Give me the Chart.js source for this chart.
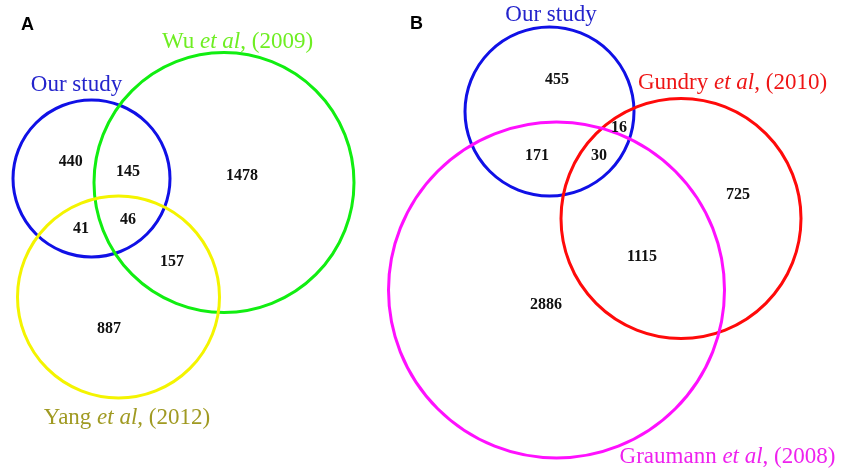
<!DOCTYPE html>
<html>
<head>
<meta charset="utf-8">
<script src="https://cdn.jsdelivr.net/npm/chart.js@4.4.0/dist/chart.umd.min.js"></script>
<style>
html,body{margin:0;padding:0;background:#fff;}
#c{display:block;}
</style>
</head>
<body>
<canvas id="c" width="847" height="471"></canvas>
<script>
// Sets (circles): name parts, center x, center y, radius (in diagram units)
const setLabels = [
  ["Our study"], ["Wu ", "et al", ", (2009)"], ["Yang ", "et al", ", (2012)"],
  ["Our study"], ["Gundry ", "et al", ", (2010)"], ["Graumann ", "et al", ", (2008)"]
];
const setCenterX = [91.5, 224, 118.5, 549.5, 681, 556.5];
const setCenterY = [178.5, 182.5, 297, 111.5, 218.5, 290];
const setRadius  = [78.5, 130, 101, 84.5, 120, 168];
const setColors  = ["#1010e6", "#11ee11", "#f4f400", "#1010e6", "#ff0a0a", "#ff10ff"];
const labelColors = ["#2424cc", "#6eee22", "#a09a22", "#2424cc", "#ee1515", "#ee22ee"];
const labelX = [76.5, 237.5, 127, 551, 732.5, 727.5];
const labelY = [85, 42, 418, 15, 83, 457];

// Region counts
const counts  = ["440", "145", "1478", "46", "41", "157", "887",
                 "455", "16", "171", "30", "725", "1115", "2886"];
const countX  = [70.7, 128, 242, 128, 81, 172, 109,
                 557, 619, 537, 599, 738, 642, 546];
const countY  = [162, 172, 176, 220, 229, 262, 329,
                 80, 128, 156, 156, 195, 257, 305];

const panelLetters = ["A", "B"];
const panelX = [27.5, 416.5];
const panelY = [25, 24];

const datasets = setCenterX.map((x, i) => ({
  label: setLabels[i].join(""),
  data: [{x: x, y: setCenterY[i], rr: setRadius[i]}],
  borderColor: setColors[i],
  backgroundColor: "rgba(0,0,0,0)",
  borderWidth: 3
}));

const vennPlugin = {
  id: "venn",
  afterDatasetsDraw(chart) {
    const ctx = chart.ctx;
    const xs = chart.scales.x, ys = chart.scales.y;
    ctx.save();
    // circles
    datasets.forEach((ds, i) => {
      const d = ds.data[0];
      const px = xs.getPixelForValue(d.x), py = ys.getPixelForValue(d.y);
      const r = xs.getPixelForValue(d.x + d.rr) - px;
      ctx.beginPath();
      ctx.arc(px, py, r, 0, Math.PI * 2);
      ctx.strokeStyle = ds.borderColor;
      ctx.lineWidth = ds.borderWidth;
      ctx.stroke();
    });
    // set labels
    ctx.textBaseline = "middle";
    ctx.textAlign = "left";
    setLabels.forEach((parts, i) => {
      const fonts = parts.map((p, k) => (parts.length === 3 && k === 1 ? "italic " : "") + "23px 'Liberation Serif', 'Times New Roman', serif");
      let w = 0;
      const widths = parts.map((p, k) => { ctx.font = fonts[k]; const m = ctx.measureText(p).width; w += m; return m; });
      let x = xs.getPixelForValue(labelX[i]) - w / 2;
      const y = ys.getPixelForValue(labelY[i]);
      ctx.fillStyle = labelColors[i];
      parts.forEach((p, k) => { ctx.font = fonts[k]; ctx.fillText(p, x, y); x += widths[k]; });
    });
    // counts
    ctx.textAlign = "center";
    ctx.fillStyle = "#111";
    ctx.font = "bold 16px 'Liberation Serif', 'Times New Roman', serif";
    counts.forEach((t, i) => {
      ctx.fillText(t, xs.getPixelForValue(countX[i]), ys.getPixelForValue(countY[i]));
    });
    // panel letters
    ctx.font = "bold 18px 'Liberation Sans', Arial, sans-serif";
    ctx.fillStyle = "#000";
    panelLetters.forEach((t, i) => {
      ctx.fillText(t, xs.getPixelForValue(panelX[i]), ys.getPixelForValue(panelY[i]));
    });
    ctx.restore();
  }
};

new Chart(document.getElementById("c"), {
  type: "scatter",
  data: { datasets: datasets.map(ds => Object.assign({}, ds, {pointRadius: 0, pointHoverRadius: 0, showLine: false})) },
  options: {
    responsive: false,
    animation: false,
    events: [],
    layout: { padding: 0 },
    plugins: { legend: { display: false }, tooltip: { enabled: false } },
    scales: {
      x: { type: "linear", min: 0, max: 847, display: false },
      y: { type: "linear", min: 0, max: 471, reverse: true, display: false }
    }
  },
  plugins: [vennPlugin]
});
</script>
</body>
</html>
